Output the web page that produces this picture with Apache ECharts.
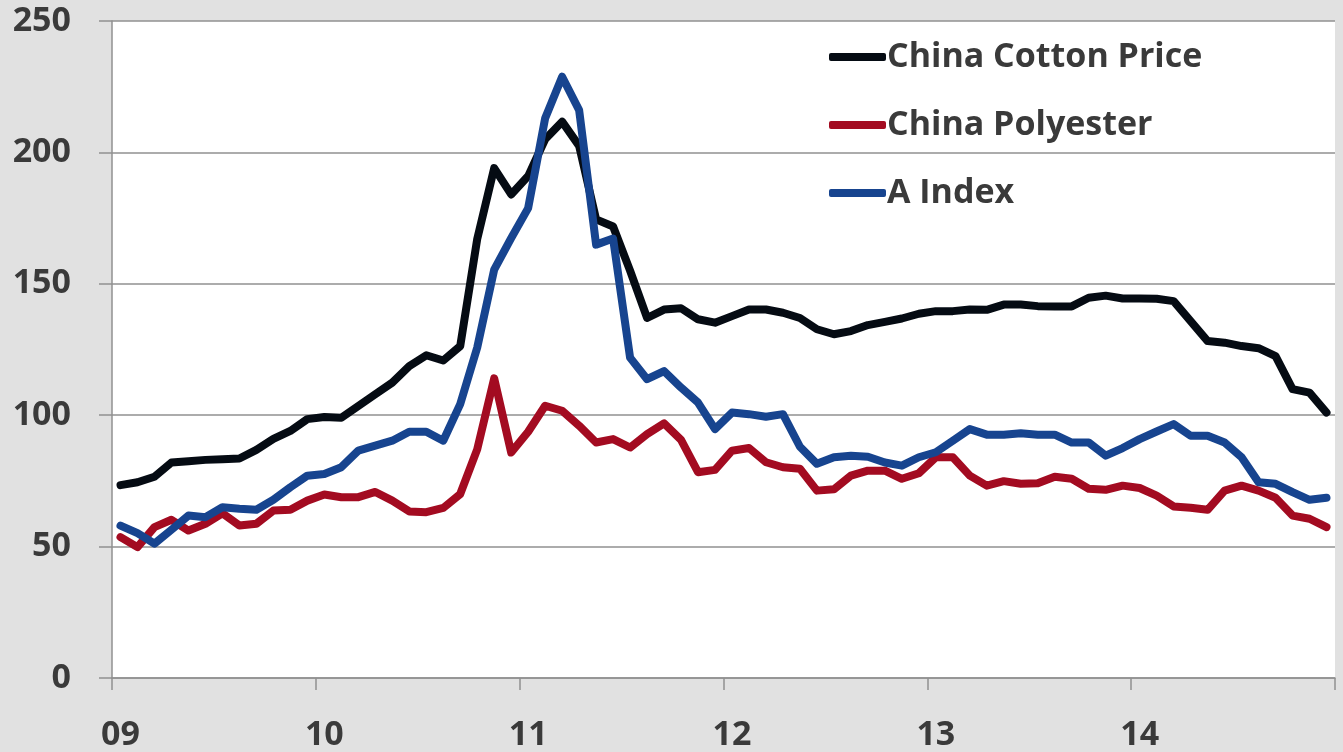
<!DOCTYPE html>
<html>
<head>
<meta charset="utf-8">
<script src="https://cdn.jsdelivr.net/npm/echarts@6/dist/echarts.min.js"></script>
<style>
html,body{margin:0;padding:0;background:#e1e1e1;}
#chart{width:1343px;height:752px;}
</style>
</head>
<body>
<div id="chart"></div>
<script>
var yearLabels = ['09','10','11','12','13','14'];
var yTicks = [0, 50, 100, 150, 200, 250];

var chinaCotton = [73.4,74.5,76.6,82,82.5,83,83.2,83.5,86.8,91,94,98.5,
  99.3,99,103.5,108,112.4,118.7,122.8,120.8,126.3,167,194,184,
  191,205,211.7,202.5,174.5,171.8,155,137,140.2,140.7,136.5,135.2,
  137.7,140.2,140.2,139,137,132.7,130.8,132,134.3,135.5,136.8,138.6,
  139.6,139.6,140.2,140.1,142.1,142.1,141.5,141.4,141.4,144.7,145.5,144.4,
  144.4,144.3,143.4,135.8,128.2,127.6,126.3,125.5,122.5,109.9,108.6,101];

var chinaPolyester = [53.6,49.8,57.4,60.2,56.1,58.7,62.7,58,58.7,63.7,64,67.5,
  69.8,68.8,68.8,70.8,67.5,63.4,63.1,64.7,70,87,114,85.8,
  93.7,103.6,101.7,96,89.6,90.9,87.7,92.8,96.9,90.6,78.3,79.2,
  86.5,87.5,82.1,80.2,79.6,71.3,71.8,77,78.9,78.9,75.8,77.9,
  84,84,77,73.2,74.9,73.9,74.1,76.6,75.8,72,71.6,73.2,
  72.3,69.4,65.3,64.8,64,71.3,73.2,71.3,68.6,61.8,60.6,57.4];

var aIndex = [58,55.1,51.1,56.4,61.8,61.2,65,64.4,64,67.8,72.6,77,
  77.6,80.2,86.5,88.4,90.3,93.7,93.7,90.3,104.2,125.7,155.4,167.4,
  178.8,213,228.8,216.1,164.9,167.2,121.9,113.7,116.8,110.5,104.8,94.7,
  101,100.4,99.4,100.4,88,81.5,84,84.6,84.2,82,80.8,84,
  85.9,90.3,94.7,92.6,92.6,93.1,92.6,92.6,89.6,89.6,84.6,87.5,
  90.9,93.8,96.6,92.2,92.2,89.6,84,74.5,73.9,70.7,67.8,68.6];

var categories = [];
yearLabels.forEach(function (y) {
  for (var m = 1; m <= 12; m++) categories.push(y + '-' + (m < 10 ? '0' + m : m));
});

var FONT = 'Open Sans';
var labelColor = '#3a3a3a';
var gridColor = '#909090';

var chart = echarts.init(document.getElementById('chart'));
chart.setOption({
  backgroundColor: '#e1e1e1',
  animation: false,
  grid: {left: 112, right: 8, top: 21, bottom: 74, show: true, backgroundColor: '#ffffff', borderWidth: 0},
  legend: {
    orient: 'vertical',
    left: 824,
    top: 35,
    itemWidth: 57,
    itemHeight: 8,
    itemGap: 34,
    icon: 'roundRect',
    textStyle: {fontFamily: FONT, fontWeight: 'bold', fontSize: 34, color: labelColor, lineHeight: 34, padding: [0, 0, 0, -4]},
    data: ['China Cotton Price', 'China Polyester', 'A Index']
  },
  xAxis: {
    type: 'category',
    data: categories,
    boundaryGap: true,
    axisLine: {show: true, lineStyle: {color: gridColor, width: 1.5}},
    axisTick: {show: true, interval: 11, length: 12, lineStyle: {color: gridColor, width: 1.5}},
    axisLabel: {
      interval: 11,
      margin: 40,
      fontFamily: FONT, fontWeight: 'bold', fontSize: 34, color: labelColor,
      formatter: function (v) { return v.split('-')[0]; }
    },
    splitLine: {show: false}
  },
  yAxis: {
    type: 'value',
    min: yTicks[0],
    max: yTicks[yTicks.length - 1],
    interval: 50,
    axisLine: {show: true, lineStyle: {color: gridColor, width: 1.5}},
    axisTick: {show: true, length: 13, lineStyle: {color: gridColor, width: 1.5}},
    axisLabel: {margin: 41, fontFamily: FONT, fontWeight: 'bold', fontSize: 34, color: labelColor},
    splitLine: {show: true, lineStyle: {color: gridColor, width: 1.5}}
  },
  series: [
    {name: 'China Cotton Price', type: 'line', data: chinaCotton, symbol: 'none', z: 3,
      lineStyle: {color: '#050b13', width: 8, cap: 'round', join: 'round'}, itemStyle: {color: '#050b13'}},
    {name: 'China Polyester', type: 'line', data: chinaPolyester, symbol: 'none', z: 2,
      lineStyle: {color: '#a30b21', width: 8, cap: 'round', join: 'round'}, itemStyle: {color: '#a30b21'}},
    {name: 'A Index', type: 'line', data: aIndex, symbol: 'none', z: 4,
      lineStyle: {color: '#17448f', width: 8, cap: 'round', join: 'round'}, itemStyle: {color: '#17448f'}}
  ]
});
</script>
</body>
</html>
